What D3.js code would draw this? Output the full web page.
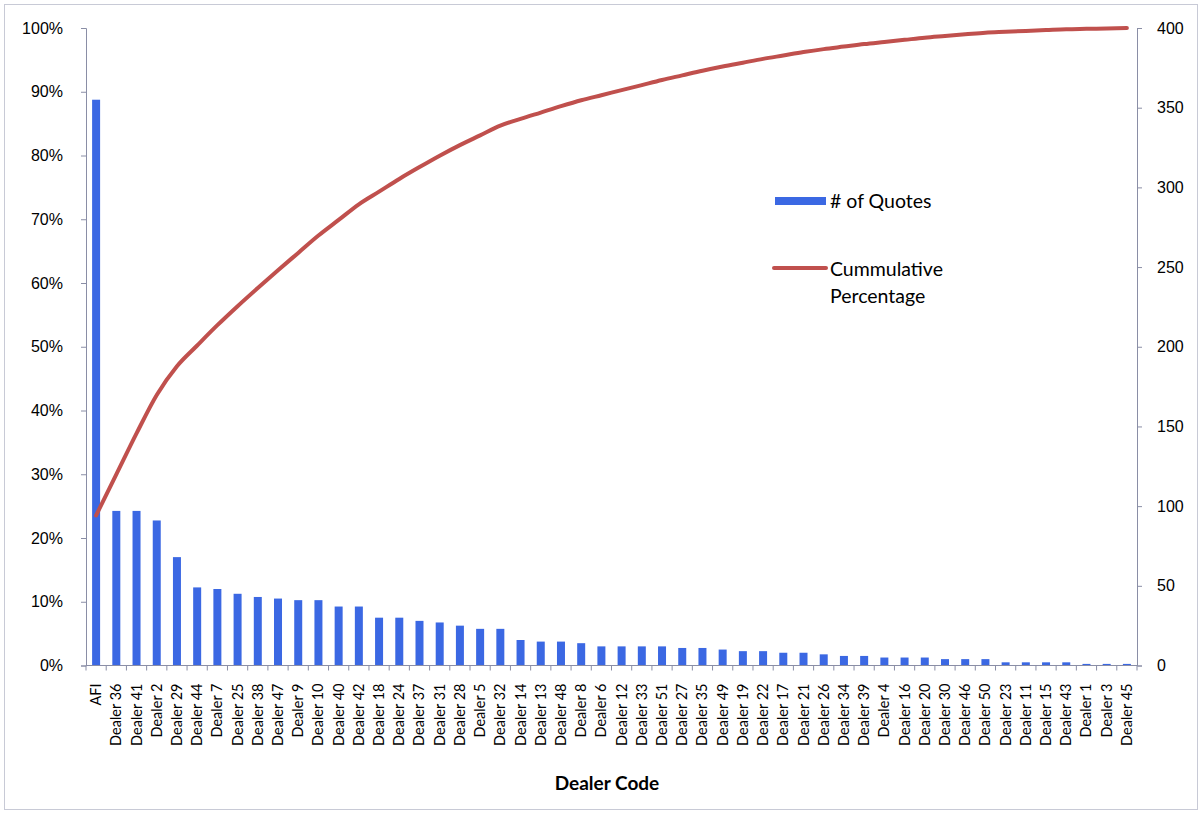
<!DOCTYPE html>
<html>
<head>
<meta charset="utf-8">
<script src="https://cdn.jsdelivr.net/npm/d3@7"></script>
<style>
  html, body { margin: 0; padding: 0; background: #fff; }
  svg { display: block; font-family: Lato, "Open Sans", sans-serif; }
  .axis path, .axis line { stroke: #8a8ea6; }
</style>
</head>
<body>
<svg id="chart" width="1202" height="814"></svg>
<script>
// Dealers ordered by number of quotes (Pareto order)
const dealers = ["AFI", "Dealer 36", "Dealer 41", "Dealer 2", "Dealer 29", "Dealer 44", "Dealer 7",
  "Dealer 25", "Dealer 38", "Dealer 47", "Dealer 9", "Dealer 10", "Dealer 40", "Dealer 42",
  "Dealer 18", "Dealer 24", "Dealer 37", "Dealer 31", "Dealer 28", "Dealer 5", "Dealer 32",
  "Dealer 14", "Dealer 13", "Dealer 48", "Dealer 8", "Dealer 6", "Dealer 12", "Dealer 33",
  "Dealer 51", "Dealer 27", "Dealer 35", "Dealer 49", "Dealer 19", "Dealer 22", "Dealer 17",
  "Dealer 21", "Dealer 26", "Dealer 34", "Dealer 39", "Dealer 4", "Dealer 16", "Dealer 20",
  "Dealer 30", "Dealer 46", "Dealer 50", "Dealer 23", "Dealer 11", "Dealer 15", "Dealer 43",
  "Dealer 1", "Dealer 3", "Dealer 45"];

// Number of quotes per dealer
const quotes = [355, 97, 97, 91, 68, 49, 48,
  45, 43, 42, 41, 41, 37, 37,
  30, 30, 28, 27, 25, 23, 23,
  16, 15, 15, 14, 12, 12, 12,
  12, 11, 11, 10, 9, 9, 8,
  8, 7, 6, 6, 5, 5, 5,
  4, 4, 4, 2, 2, 2, 2,
  1, 1, 1];

const leftTicks = [0, 0.1, 0.2, 0.3, 0.4, 0.5, 0.6, 0.7, 0.8, 0.9, 1.0];
const rightTicks = [0, 50, 100, 150, 200, 250, 300, 350, 400];

const seriesNames = ["# of Quotes", "Cummulative", "Percentage"];
const xTitle = "Dealer Code";

// Running share of all quotes, in Pareto order
const total = d3.sum(quotes);
const cumulative = Array.from(d3.cumsum(quotes), v => v / total);

const svg = d3.select("#chart");
const plot = { left: 86, right: 1137, top: 28, bottom: 665.5 };

// Outer chart frame
svg.append("rect")
  .attr("x", 4.5).attr("y", 4.5).attr("width", 1193).attr("height", 805)
  .attr("fill", "none").attr("stroke", "#c8cad6").attr("stroke-width", 1);

const xPos = d3.scaleBand().domain(dealers).range([plot.left, plot.right]);
const yPct = d3.scaleLinear().domain([0, 1]).range([plot.bottom, plot.top]);
const yCount = d3.scaleLinear().domain([0, 400]).range([plot.bottom, plot.top]);

// Bars
svg.append("g").selectAll("rect")
  .data(quotes)
  .join("rect")
  .attr("x", (d, i) => xPos(dealers[i]) + xPos.bandwidth() / 2 - 4)
  .attr("width", 8)
  .attr("y", d => yCount(d))
  .attr("height", d => plot.bottom - yCount(d))
  .attr("fill", "#3b68e3");

// Cumulative percentage line
const line = d3.line()
  .x((d, i) => xPos(dealers[i]) + xPos.bandwidth() / 2)
  .y(d => yPct(d))
  .curve(d3.curveMonotoneX);

svg.append("path")
  .datum(cumulative)
  .attr("d", line)
  .attr("fill", "none")
  .attr("stroke", "#c0504d")
  .attr("stroke-width", 4)
  .attr("stroke-linejoin", "round")
  .attr("stroke-linecap", "round");

// Left percentage axis
const leftAxis = svg.append("g").attr("class", "axis")
  .attr("transform", `translate(${plot.left},0)`)
  .call(d3.axisLeft(yPct).tickValues(leftTicks).tickFormat(d3.format(".0%")).tickSizeOuter(0).tickSize(5).tickPadding(18));
leftAxis.selectAll("text").attr("font-size", 16).attr("fill", "#000");

// Right count axis
const rightAxis = svg.append("g").attr("class", "axis")
  .attr("transform", `translate(${plot.right},0)`)
  .call(d3.axisRight(yCount).tickValues(rightTicks).tickSizeOuter(0).tickSize(5).tickPadding(15));
rightAxis.selectAll("text").attr("font-size", 16).attr("fill", "#000");

// Bottom category axis with ticks between categories
const bottom = svg.append("g").attr("class", "axis")
  .attr("transform", `translate(0,${plot.bottom})`);
bottom.append("line")
  .attr("x1", plot.left).attr("x2", plot.right)
  .attr("stroke", "#8a8ea6");
bottom.selectAll("line.tick")
  .data(dealers.concat(["end"]))
  .join("line")
  .attr("class", "tick")
  .attr("x1", (d, i) => plot.left + i * xPos.step())
  .attr("x2", (d, i) => plot.left + i * xPos.step())
  .attr("y1", 0).attr("y2", 5)
  .attr("stroke", "#8a8ea6");
bottom.selectAll("text")
  .data(dealers)
  .join("text")
  .attr("transform", d => `translate(${xPos(d) + xPos.bandwidth() / 2 + 5},18) rotate(-90)`)
  .attr("text-anchor", "end")
  .attr("font-size", 14.5)
  .attr("fill", "#000")
  .text(d => d);

// X axis title
svg.append("text")
  .attr("x", 607).attr("y", 790)
  .attr("text-anchor", "middle")
  .attr("font-size", 19)
  .attr("font-weight", "bold")
  .attr("fill", "#000")
  .text(xTitle);

// Legend
const legend = svg.append("g");
legend.append("rect")
  .attr("x", 775).attr("y", 197).attr("width", 51).attr("height", 8)
  .attr("fill", "#3b68e3");
legend.append("text")
  .attr("x", 830).attr("y", 208)
  .attr("font-size", 19.5).attr("fill", "#000")
  .text(seriesNames[0]);
legend.append("line")
  .attr("x1", 774).attr("x2", 826).attr("y1", 268).attr("y2", 268)
  .attr("stroke", "#c0504d").attr("stroke-width", 4).attr("stroke-linecap", "round");
legend.append("text")
  .attr("x", 830).attr("y", 276)
  .attr("font-size", 19.5).attr("fill", "#000")
  .text(seriesNames[1]);
legend.append("text")
  .attr("x", 830).attr("y", 303)
  .attr("font-size", 19.5).attr("fill", "#000")
  .text(seriesNames[2]);
</script>
</body>
</html>
